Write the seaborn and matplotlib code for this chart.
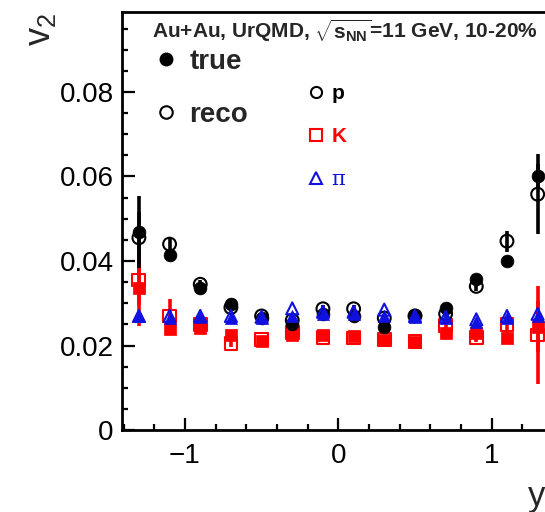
import numpy as np
import pandas as pd
import matplotlib
matplotlib.use("Agg")
import matplotlib.pyplot as plt
from matplotlib.lines import Line2D
from matplotlib.ticker import MultipleLocator, FixedLocator
import seaborn as sns

# ---------------- data ----------------
rapidity = [-1.3, -1.1, -0.9, -0.7, -0.5, -0.3, -0.1, 0.1, 0.3, 0.5, 0.7, 0.9, 1.1, 1.3]

p_true = [0.0469, 0.0414, 0.0335, 0.0298, 0.0265, 0.0250, 0.0275, 0.0270, 0.0243, 0.0272, 0.0290, 0.0358, 0.0400, 0.0600]
p_true_err = [0.0085, 0.0010, 0.0008, 0.0008, 0.0008, 0.0008, 0.0008, 0.0008, 0.0008, 0.0008, 0.0008, 0.0010, 0.0012, 0.0030]
p_reco = [0.0455, 0.0440, 0.0345, 0.0290, 0.0270, 0.0260, 0.0287, 0.0287, 0.0265, 0.0270, 0.0275, 0.0340, 0.0447, 0.0558]
p_reco_err = [0.0060, 0.0015, 0.0010, 0.0008, 0.0008, 0.0008, 0.0008, 0.0008, 0.0008, 0.0008, 0.0008, 0.0012, 0.0025, 0.0095]

k_true = [0.0335, 0.0240, 0.0242, 0.0225, 0.0210, 0.0225, 0.0225, 0.0222, 0.0213, 0.0208, 0.0230, 0.0230, 0.0218, 0.0245]
k_true_err = [0.0088, 0.0015, 0.0010, 0.0008, 0.0008, 0.0008, 0.0008, 0.0008, 0.0008, 0.0008, 0.0008, 0.0012, 0.0015, 0.0060]
k_reco = [0.0355, 0.0270, 0.0250, 0.0205, 0.0215, 0.0230, 0.0220, 0.0218, 0.0215, 0.0210, 0.0248, 0.0220, 0.0250, 0.0225]
k_reco_err = [0.0060, 0.0040, 0.0010, 0.0008, 0.0008, 0.0008, 0.0008, 0.0008, 0.0008, 0.0008, 0.0008, 0.0012, 0.0015, 0.0115]

pi_true = [0.0270, 0.0265, 0.0268, 0.0265, 0.0265, 0.0270, 0.0275, 0.0275, 0.0270, 0.0268, 0.0265, 0.0255, 0.0265, 0.0270]
pi_reco = [0.0270, 0.0270, 0.0270, 0.0270, 0.0268, 0.0288, 0.0280, 0.0280, 0.0285, 0.0270, 0.0268, 0.0262, 0.0270, 0.0275]

x_ticks = [-1, 0, 1]
x_ticklabels = ["\u22121", "0", "1"]
y_ticks = [0, 0.02, 0.04, 0.06, 0.08]
y_ticklabels = ["0", "0.02", "0.04", "0.06", "0.08"]

title_text = r"Au+Au, UrQMD, $\mathbf{\sqrt{s_{NN}}}$=11 GeV, 10-20%"

# ---------------- style ----------------
sns.set_theme(style="ticks")
plt.rcParams["font.family"] = ["Liberation Sans", "DejaVu Sans"]
plt.rcParams["mathtext.fontset"] = "custom"
plt.rcParams["mathtext.rm"] = "Liberation Sans"
plt.rcParams["mathtext.bf"] = "Liberation Sans:bold"
plt.rcParams["mathtext.it"] = "Liberation Sans:italic"

RED = "#ff0000"
BLUE = "#1010e0"
BLACK = "#000000"

fig = plt.figure(figsize=(5.45, 5.12), dpi=100)
ax = fig.add_axes([0.2239, 0.160, 0.8048, 0.8164])

ms = 85  # scatter size (pt^2)
ew = 1.5

def draw(vals, errs, color, marker, filled, z, size=ms):
    if errs is not None:
        ax.errorbar(rapidity, vals, yerr=errs, fmt="none", ecolor=color,
                    elinewidth=2.6, capsize=0, zorder=z)
    if filled:
        sns.scatterplot(x=rapidity, y=vals, ax=ax, marker=marker, s=size,
                        color=color, edgecolor=color, linewidth=0.5, zorder=z + 0.5, legend=False)
    else:
        sns.scatterplot(x=rapidity, y=vals, ax=ax, marker=marker, s=size,
                        facecolor="none", edgecolor=color, linewidth=ew, zorder=z + 0.5, legend=False)

draw(k_reco, k_reco_err, RED, "s", False, 2)
draw(k_true, k_true_err, RED, "s", True, 3)
draw(p_true, p_true_err, BLACK, "o", True, 4)
draw(p_reco, p_reco_err, BLACK, "o", False, 5)
draw(pi_true, None, BLUE, "^", True, 6, size=75)
draw(pi_reco, None, BLUE, "^", False, 7, size=75)

ax.set_xlim(-1.41, 1.45)
ax.set_ylim(0, 0.0989)

ax.xaxis.set_major_locator(FixedLocator(x_ticks))
ax.set_xticklabels(x_ticklabels)
ax.xaxis.set_minor_locator(MultipleLocator(0.2))
ax.yaxis.set_major_locator(FixedLocator(y_ticks))
ax.set_yticklabels(y_ticklabels)
ax.yaxis.set_minor_locator(MultipleLocator(0.005))

ax.tick_params(axis="both", which="major", direction="in", length=9, width=1.6,
               labelsize=20, color="black", labelcolor="black")
ax.tick_params(axis="both", which="minor", direction="in", length=4.5, width=1.6, color="black")
ax.tick_params(axis="x", which="major", pad=9)
ax.tick_params(axis="y", which="major", pad=6)
ax.tick_params(top=False, right=False, which="both")

for s in ax.spines.values():
    s.set_linewidth(2.0)
    s.set_color("black")
ax.set_facecolor("white")
ax.grid(False)
ax.set_xlabel("")
ax.set_ylabel("")

# axis titles (ROOT style)
fig.text(0.075, 0.975, r"v$_{2}$", rotation=90, ha="center", va="top", fontsize=26)
fig.text(0.985, 0.012, "y", ha="center", va="baseline", fontsize=25)

# header text
ax.text(0.068, 0.957, title_text, transform=ax.transAxes, ha="left", va="center",
        fontsize=15, fontweight="bold")

# legends
h_true = Line2D([], [], linestyle="none", marker="o", markersize=9, color=BLACK,
                markerfacecolor=BLACK, markeredgecolor=BLACK)
h_reco = Line2D([], [], linestyle="none", marker="o", markersize=9, markerfacecolor="none",
                markeredgecolor=BLACK, markeredgewidth=1.5)
leg1 = ax.legend([h_true, h_reco], ["true", "reco"], loc="upper left",
                 bbox_to_anchor=(0.078, 0.912), frameon=False, borderpad=0, borderaxespad=0,
                 handlelength=0.7, handletextpad=0.5, labelspacing=0.98,
                 prop={"size": 20, "weight": "bold"})
ax.add_artist(leg1)

h_p = Line2D([], [], linestyle="none", marker="o", markersize=8, markerfacecolor="none",
             markeredgecolor=BLACK, markeredgewidth=1.5)
h_k = Line2D([], [], linestyle="none", marker="s", markersize=8.5, markerfacecolor="none",
             markeredgecolor=RED, markeredgewidth=1.5)
h_pi = Line2D([], [], linestyle="none", marker="^", markersize=8.5, markerfacecolor="none",
              markeredgecolor=BLUE, markeredgewidth=1.5)
leg2 = ax.legend([h_p, h_k, h_pi], ["p", "K", "\u03c0"], loc="upper left",
                 bbox_to_anchor=(0.425, 0.828), frameon=False, borderpad=0, borderaxespad=0,
                 handlelength=0.7, handletextpad=0.4, labelspacing=1.15,
                 prop={"size": 15, "weight": "bold"})
for txt, c in zip(leg2.get_texts(), [BLACK, RED, BLUE]):
    txt.set_color(c)
leg2.get_texts()[2].set_fontweight("normal")
leg2.get_texts()[2].set_family(["DejaVu Serif", "DejaVu Sans"])

fig.savefig("out.png", dpi=100, facecolor="white")
